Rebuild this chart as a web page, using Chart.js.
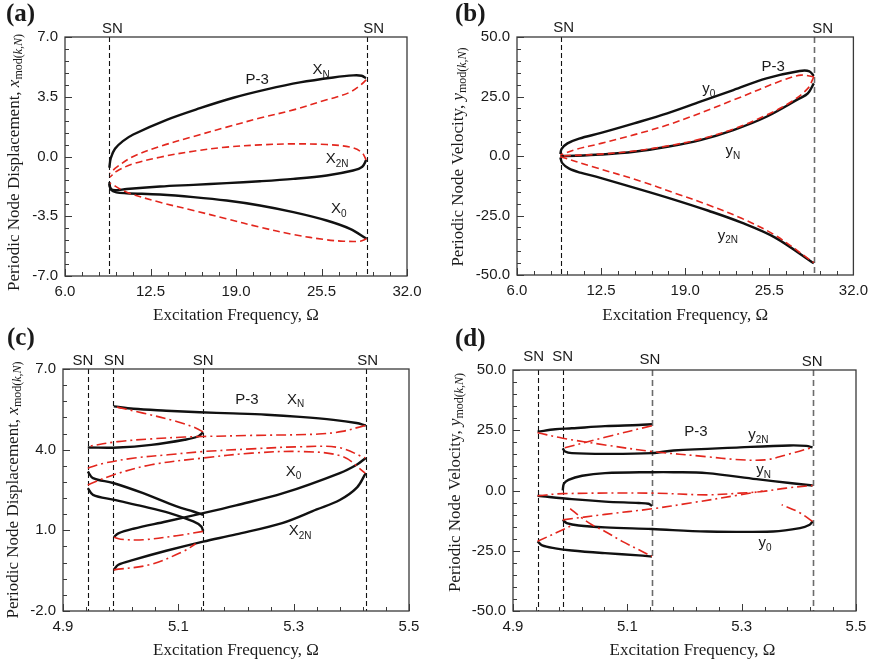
<!DOCTYPE html>
<html>
<head>
<meta charset="utf-8">
<script src="https://cdn.jsdelivr.net/npm/chart.js@4.4.1/dist/chart.umd.min.js"></script>
<style>
  html, body { margin: 0; padding: 0; background: #fff; }
  #wrap { position: relative; width: 875px; height: 663px; }
  #wrap canvas { position: absolute; left: 0; top: 0; pointer-events: none; }
</style>
</head>
<body>
<div id="wrap">
  <canvas id="pa" width="875" height="663"></canvas>
  <canvas id="pb" width="875" height="663"></canvas>
  <canvas id="pc" width="875" height="663"></canvas>
  <canvas id="pd" width="875" height="663"></canvas>
</div>
<script>
// ---- tick values ----
const wideX = [6.0, 12.5, 19.0, 25.5, 32.0];
const narrowX = [4.9, 5.1, 5.3, 5.5];
const aYTicks = [-7.0, -3.5, 0.0, 3.5, 7.0];
const bYTicks = [-50, -25, 0, 25, 50];
const cYTicks = [-2.0, 1.0, 4.0, 7.0];
const dYTicks = [-50, -25, 0, 25, 50];

// ---- saddle-node positions ----
const wideSN = [9.37, 28.93];
const narrowSN = [4.943, 4.987, 5.143, 5.425];

// ---- (a) displacement, [Omega, x] ----
const aXnStable = [[9.37,-0.66],[9.48,-0.10],[9.80,0.45],[10.40,0.90],[11.19,1.29],[13.73,2.15],[16.26,2.83],[18.80,3.44],[21.33,3.93],[23.86,4.34],[26.40,4.63],[27.92,4.75],[28.55,4.73],[28.88,4.59]];
const aXnUnstable = [[28.90,4.49],[28.43,4.16],[27.67,3.77],[26.65,3.48],[25.89,3.32],[23.36,2.73],[20.82,2.25],[18.29,1.72],[15.76,1.17],[13.22,0.59],[11.19,0.00],[9.93,-0.62],[9.42,-0.98]];
const aX2nStable = [[28.90,-0.20],[28.60,-0.60],[27.90,-0.82],[25.90,-1.11],[23.36,-1.31],[20.82,-1.45],[18.29,-1.56],[15.76,-1.66],[13.22,-1.76],[10.69,-1.90],[9.80,-1.98],[9.45,-1.85],[9.37,-1.50]];
const aX2nUnstable = [[28.90,-0.20],[28.55,0.25],[27.67,0.55],[25.89,0.70],[23.36,0.74],[20.82,0.68],[18.29,0.55],[15.76,0.31],[13.22,-0.04],[11.19,-0.43],[9.93,-0.86],[9.42,-1.21]];
const aX0Stable = [[9.37,-1.60],[9.50,-1.95],[9.90,-2.10],[10.69,-2.15],[13.22,-2.23],[15.76,-2.38],[18.29,-2.58],[20.82,-2.87],[23.36,-3.26],[25.89,-3.75],[27.67,-4.24],[28.93,-4.82]];
const aX0Unstable = [[28.93,-4.82],[28.43,-4.96],[27.16,-4.96],[25.89,-4.88],[23.36,-4.57],[20.82,-4.14],[18.29,-3.65],[15.76,-3.16],[13.22,-2.68],[10.69,-2.09],[9.42,-1.56]];

// ---- (b) velocity ----
const bY0Stable = [[9.35,0.8],[9.45,3.0],[9.90,5.3],[10.80,7.3],[12.49,9.7],[15.05,13.7],[17.61,17.9],[20.17,22.8],[22.72,27.7],[25.28,32.6],[27.84,35.7],[28.60,35.6],[28.94,33.6]];
const bY0Unstable = [[28.94,33.3],[27.96,34.0],[26.56,31.9],[22.72,23.5],[17.61,13.0],[12.49,5.3],[10.58,2.8],[9.35,0.4]];
const bYnStable = [[28.94,30.5],[28.48,26.3],[27.84,24.2],[25.28,16.5],[22.72,10.9],[20.17,6.7],[17.61,3.9],[15.05,1.8],[12.49,0.6],[10.58,0.1],[9.35,0.0]];
const bYnUnstable = [[28.94,33.3],[28.48,28.4],[27.20,22.8],[25.28,17.2],[22.72,11.3],[20.17,7.1],[17.61,4.2],[15.05,2.1],[12.49,0.8],[9.35,0.0]];
const bY2nStable = [[9.35,-0.6],[9.50,-3.0],[10.00,-5.2],[10.90,-7.0],[12.11,-8.7],[15.69,-14.3],[18.25,-18.5],[20.80,-23.0],[23.36,-28.0],[25.92,-34.2],[28.94,-45.1]];
const bY2nUnstable = [[9.35,-0.3],[11.86,-4.5],[15.69,-10.8],[18.25,-15.7],[20.80,-20.6],[23.36,-26.2],[25.92,-33.2],[28.94,-44.8]];

// ---- (c) displacement, narrow range ----
const cXnUpper = [[4.988,5.61],[5.022,5.52],[5.079,5.45],[5.137,5.39],[5.195,5.35],[5.253,5.30],[5.311,5.22],[5.369,5.11],[5.409,4.99],[5.425,4.90]];
const cXnLower = [[4.943,4.08],[4.995,4.08],[5.053,4.18],[5.111,4.37],[5.134,4.49],[5.143,4.65]];
const cAUpper = [[4.943,3.19],[4.952,2.94],[4.987,2.76],[5.039,2.38],[5.097,1.89],[5.126,1.70],[5.143,1.58]];
const cALower = [[4.943,2.57],[4.952,2.32],[4.987,2.14],[5.039,1.89],[5.085,1.64],[5.126,1.33],[5.140,1.14],[5.143,0.96]];
const cX0 = [[4.988,0.745],[4.996,0.89],[5.022,1.06],[5.079,1.33],[5.143,1.64],[5.200,1.93],[5.282,2.38],[5.380,3.13],[5.410,3.45],[5.425,3.69]];
const cX2n = [[4.988,-0.47],[4.996,-0.28],[5.022,-0.10],[5.079,0.24],[5.143,0.58],[5.200,0.85],[5.280,1.27],[5.340,1.78],[5.380,2.13],[5.410,2.60],[5.425,3.13]];
const cXnBack = [[5.143,4.66],[5.131,4.80],[5.097,5.05],[5.039,5.36],[4.988,5.61]];
const cXnReturn = [[5.424,4.90],[5.384,4.68],[5.343,4.58],[5.227,4.53],[5.143,4.49],[5.111,4.47],[5.053,4.40],[4.995,4.30],[4.943,4.12]];
const cRedUpper = [[4.943,3.31],[4.972,3.50],[5.024,3.69],[5.082,3.81],[5.143,3.93],[5.227,4.03],[5.314,4.11],[5.378,4.08],[5.424,3.69]];
const cRedLower = [[4.943,2.69],[4.987,3.06],[5.053,3.44],[5.143,3.69],[5.227,3.87],[5.314,3.93],[5.384,3.75],[5.424,3.13]];
const cRedLowA = [[5.143,0.96],[5.097,0.80],[5.039,0.65],[5.000,0.67],[4.988,0.745]];
const cRedLowB = [[4.988,-0.47],[5.050,-0.28],[5.108,0.21],[5.130,0.50]];

// ---- (d) velocity, narrow range ----
const dTopA = [[4.943,24.4],[4.974,25.4],[5.003,25.8],[5.061,26.7],[5.120,27.2],[5.143,27.5]];
const dMidA = [[4.943,-2.2],[5.003,-3.6],[5.061,-4.6],[5.120,-5.2],[5.137,-5.5],[5.143,-6.4]];
const dBotA = [[4.943,-21.1],[4.951,-22.8],[4.974,-24.0],[5.003,-24.9],[5.061,-26.0],[5.120,-26.9],[5.143,-27.4]];
const dY2n = [[4.987,17.5],[4.991,16.2],[5.003,15.5],[5.061,15.2],[5.143,15.5],[5.181,16.6],[5.297,17.9],[5.384,18.7],[5.413,18.5],[5.424,17.9]];
const dYn = [[4.987,0.0],[4.989,2.8],[4.997,4.4],[5.021,6.1],[5.061,7.2],[5.143,7.6],[5.181,7.6],[5.239,7.2],[5.326,4.7],[5.384,3.1],[5.424,2.1]];
const dY0 = [[4.987,-12.2],[4.994,-13.5],[5.015,-14.5],[5.061,-15.3],[5.143,-16.0],[5.239,-17.0],[5.355,-17.0],[5.402,-15.6],[5.419,-14.2],[5.424,-12.8]];
const dRedTop1 = [[5.143,26.9],[5.061,22.1],[4.987,17.5]];
const dRedTop2 = [[4.943,24.0],[4.987,21.7],[5.061,18.9],[5.143,16.2],[5.240,14.0],[5.289,12.9],[5.341,12.7],[5.378,14.8],[5.424,17.9]];
const dRedMid1 = [[4.943,-2.2],[4.987,-1.3],[5.143,-1.1],[5.239,-1.8],[5.297,-1.1],[5.337,-0.4],[5.378,1.0],[5.424,2.1]];
const dRedMid2 = [[4.987,-12.2],[5.061,-9.9],[5.143,-7.6],[5.210,-5.2],[5.297,-1.8],[5.337,-0.2]];
const dRedBotR = [[5.424,-12.8],[5.400,-9.0],[5.370,-5.9]];
const dRedBotA = [[5.000,-7.5],[5.021,-11.5],[5.038,-14.2],[5.061,-17.0],[5.091,-21.1],[5.126,-25.3],[5.143,-27.4]];
const dRedBotB = [[4.943,-21.1],[4.987,-16.3],[5.000,-14.8]];

const RED = '#e3261d';
const SANS = '"Liberation Sans", Arial, sans-serif';
const SERIF = '"Liberation Serif", "Times New Roman", serif';
const DASH = [7, 4];
const DASHDOT = [10, 4, 2, 4];

function pts(arr) { return arr.map(p => ({ x: p[0], y: p[1] })); }
function stable(arr) {
    return { data: pts(arr), showLine: true, borderColor: '#111', borderWidth: 2.4, pointRadius: 0, tension: 0.35 };
}
function unstable(arr, dash) {
    return { data: pts(arr), showLine: true, borderColor: RED, borderWidth: 1.6, borderDash: dash, pointRadius: 0, tension: 0.35 };
}

// subscript-style label parts
function sub(main, s, size) {
    return [{ t: main, f: size + 'px ' + SANS, dy: 0 }, { t: s, f: Math.round(size * 0.68) + 'px ' + SANS, dy: 5 }];
}
function yTitle(word, v) {
    return [
        { t: word + ', ', f: '17px ' + SERIF, dy: 0 },
        { t: v, f: 'italic 17px ' + SERIF, dy: 0 },
        { t: 'mod(', f: '12px ' + SERIF, dy: 4 },
        { t: 'k', f: 'italic 12px ' + SERIF, dy: 4 },
        { t: ',', f: '12px ' + SERIF, dy: 4 },
        { t: 'N', f: 'italic 12px ' + SERIF, dy: 4 },
        { t: ')', f: '12px ' + SERIF, dy: 4 }
    ];
}
const xTitle = [{ t: 'Excitation Frequency, Ω', f: '17px ' + SERIF, dy: 0 }];

// layout / decoration per panel
const panels = {
    pa: {
        area: { l: 65, t: 37, r: 407, b: 276 }, xt: wideX, yt: aYTicks,
        label: '(a)', labelAt: [6, 21],
        sn: [{ x: wideSN[0], dx: 3, dy: -4 }, { x: wideSN[1], dx: 7, dy: -4 }],
        notes: [{ x: 20.6, y: 4.48, p: sub('P-3', '', 15) }, { x: 25.2, y: 5.07, p: sub('X', 'N', 15) },
                { x: 26.2, y: -0.15, p: sub('X', '2N', 15) }, { x: 26.6, y: -3.08, p: sub('X', '0', 15) }],
        ytitle: { x: 15, dy: 6, p: yTitle('Periodic Node Displacement', 'x') },
        xtitle: { y: 320 }
    },
    pb: {
        area: { l: 517, t: 37, r: 856, b: 275 }, xt: wideX, yt: bYTicks,
        label: '(b)', labelAt: [455, 21],
        sn: [{ x: wideSN[0], dx: 3, dy: -5 }, { x: wideSN[1], dx: 9, dy: -4, gray: true }],
        notes: [{ x: 25.8, y: 37.5, p: sub('P-3', '', 15) }, { x: 20.6, y: 28.2, p: sub('y', '0', 15) },
                { x: 22.4, y: 2.2, p: sub('y', 'N', 15) }, { x: 21.8, y: -33.5, p: sub('y', '2N', 15) }],
        ytitle: { x: 459, dy: 1, p: yTitle('Periodic Node Velocity', 'y') },
        xtitle: { y: 320 }
    },
    pc: {
        area: { l: 63, t: 369, r: 409, b: 611 }, xt: narrowX, yt: cYTicks,
        label: '(c)', labelAt: [7, 345],
        sn: [{ x: narrowSN[0], dx: -5, dy: -4 }, { x: narrowSN[1], dx: 1, dy: -4 },
             { x: narrowSN[2], dx: 0, dy: -4 }, { x: narrowSN[3], dx: 2, dy: -4 }],
        notes: [{ x: 5.219, y: 5.86, p: sub('P-3', '', 15) }, { x: 5.297, y: 5.86, p: sub('X', 'N', 15) },
                { x: 5.295, y: 3.18, p: sub('X', '0', 15) }, { x: 5.300, y: 0.98, p: sub('X', '2N', 15) }],
        ytitle: { x: 14, dy: 0, p: yTitle('Periodic Node Displacement', 'x') },
        xtitle: { y: 655 }
    },
    pd: {
        area: { l: 513, t: 370, r: 856, b: 611 }, xt: narrowX, yt: dYTicks,
        label: '(d)', labelAt: [455, 346],
        sn: [{ x: narrowSN[0], dx: -4, dy: -9 }, { x: narrowSN[1], dx: 0, dy: -9 },
             { x: narrowSN[2], dx: -2, dy: -6, gray: true }, { x: narrowSN[3], dx: -1, dy: -4, gray: true }],
        notes: [{ x: 5.220, y: 24.3, p: sub('P-3', '', 15) }, { x: 5.318, y: 23.1, p: sub('y', '2N', 15) },
                { x: 5.332, y: 8.6, p: sub('y', 'N', 15) }, { x: 5.336, y: -21.7, p: sub('y', '0', 15) }],
        ytitle: { x: 456, dy: -8, p: yTitle('Periodic Node Velocity', 'y') },
        xtitle: { y: 655, dx: 8 }
    }
};

function runWidth(ctx, parts) {
    let w = 0;
    parts.forEach(q => { if (q.t) { ctx.font = q.f; w += ctx.measureText(q.t).width; } });
    return w;
}
function drawRun(ctx, parts, x, y) {
    let cx = x;
    parts.forEach(q => {
        if (!q.t) return;
        ctx.font = q.f;
        ctx.fillText(q.t, cx, y + q.dy);
        cx += ctx.measureText(q.t).width;
    });
}

function inwardTicks(ctx, scale, a, dir) {
    const t = scale.ticks.map(k => k.value);
    for (let i = 0; i < t.length; i++) {
        const n = i < t.length - 1 ? 5 : 1;
        for (let j = 0; j < n; j++) {
            const v = i < t.length - 1 ? t[i] + (t[i + 1] - t[i]) * j / 5 : t[i];
            const len = j === 0 ? 7 : 4;
            const pix = Math.round(scale.getPixelForValue(v)) + 0.5;
            ctx.beginPath();
            if (dir === 'x') { ctx.moveTo(pix, a.bottom); ctx.lineTo(pix, a.bottom - len); }
            else { ctx.moveTo(a.left, pix); ctx.lineTo(a.left + len, pix); }
            ctx.stroke();
        }
    }
}

const decor = {
    id: 'decor',
    beforeDatasetsDraw(chart) {
        const p = panels[chart.canvas.id];
        const { ctx, chartArea: a, scales: { x } } = chart;
        ctx.save();
        p.sn.forEach(s => {
            const px = Math.round(x.getPixelForValue(s.x)) + 0.5;
            ctx.strokeStyle = s.gray ? '#6b6b6b' : '#111';
            ctx.lineWidth = s.gray ? 1.6 : 1.1;
            ctx.setLineDash(s.gray ? [6, 4] : [5, 3]);
            ctx.beginPath(); ctx.moveTo(px, a.top); ctx.lineTo(px, a.bottom); ctx.stroke();
        });
        ctx.restore();
    },
    afterDraw(chart) {
        const p = panels[chart.canvas.id];
        const { ctx, chartArea: a, scales: { x, y } } = chart;
        ctx.save();
        ctx.setLineDash([]);
        ctx.strokeStyle = '#3a3a3a';
        ctx.lineWidth = 1.3;
        ctx.strokeRect(a.left, a.top, a.right - a.left, a.bottom - a.top);
        ctx.lineWidth = 1;
        inwardTicks(ctx, x, a, 'x');
        inwardTicks(ctx, y, a, 'y');

        ctx.fillStyle = '#1a1a1a';
        ctx.textBaseline = 'alphabetic';
        // SN labels
        ctx.font = '15px ' + SANS;
        ctx.textAlign = 'center';
        p.sn.forEach(s => ctx.fillText('SN', x.getPixelForValue(s.x) + s.dx, a.top + s.dy));
        // curve notes
        ctx.textAlign = 'left';
        ctx.textBaseline = 'middle';
        p.notes.forEach(n => {
            ctx.font = n.p[0].f;
            const w0 = ctx.measureText(n.p[0].t).width;
            drawRun(ctx, n.p, x.getPixelForValue(n.x) - w0 / 2, y.getPixelForValue(n.y));
        });
        // axis titles
        ctx.textBaseline = 'alphabetic';
        const xw = runWidth(ctx, xTitle);
        drawRun(ctx, xTitle, (a.left + a.right) / 2 - xw / 2 + (p.xtitle.dx || 0), p.xtitle.y);
        const yw = runWidth(ctx, p.ytitle.p);
        ctx.save();
        ctx.translate(p.ytitle.x, (a.top + a.bottom) / 2 + p.ytitle.dy);
        ctx.rotate(-Math.PI / 2);
        ctx.textBaseline = 'middle';
        drawRun(ctx, p.ytitle.p, -yw / 2, 0);
        ctx.restore();
        // panel letter
        ctx.font = 'bold 25px ' + SERIF;
        ctx.fillText(p.label, p.labelAt[0], p.labelAt[1]);
        ctx.restore();
    }
};
Chart.register(decor);

function axis(ticks, fitKey, fitVal) {
    return {
        type: 'linear',
        min: ticks[0], max: ticks[ticks.length - 1],
        grid: { display: false, drawTicks: false },
        border: { display: false },
        ticks: {
            stepSize: ticks[1] - ticks[0], padding: 7, autoSkip: false, maxRotation: 0,
            color: '#1a1a1a', font: { family: SANS, size: 15 },
            callback: v => Number(v).toFixed(1)
        },
        afterFit: s => { s[fitKey] = fitVal; }
    };
}

function makeChart(id, datasets) {
    const p = panels[id];
    return new Chart(document.getElementById(id), {
        type: 'scatter',
        data: { datasets: datasets },
        options: {
            responsive: false,
            animation: false,
            events: [],
            layout: { padding: { left: p.area.l - 50, top: p.area.t, right: 875 - p.area.r, bottom: 663 - p.area.b - 30 } },
            plugins: { legend: { display: false }, tooltip: { enabled: false } },
            scales: { x: axis(p.xt, 'height', 30), y: axis(p.yt, 'width', 50) }
        }
    });
}

// red branches first so they sit on top of the black ones
makeChart('pa', [
    unstable(aXnUnstable, DASH), unstable(aX2nUnstable, DASH), unstable(aX0Unstable, DASH),
    stable(aXnStable), stable(aX2nStable), stable(aX0Stable)
]);
makeChart('pb', [
    unstable(bY0Unstable, DASH), unstable(bYnUnstable, DASH), unstable(bY2nUnstable, DASH),
    stable(bY0Stable), stable(bYnStable), stable(bY2nStable)
]);
makeChart('pc', [
    unstable(cXnBack, DASHDOT), unstable(cXnReturn, DASHDOT), unstable(cRedUpper, DASHDOT),
    unstable(cRedLower, DASHDOT), unstable(cRedLowA, DASHDOT), unstable(cRedLowB, DASHDOT),
    stable(cXnUpper), stable(cXnLower), stable(cAUpper), stable(cALower), stable(cX0), stable(cX2n)
]);
makeChart('pd', [
    unstable(dRedTop1, DASHDOT), unstable(dRedTop2, DASHDOT), unstable(dRedMid1, DASHDOT),
    unstable(dRedMid2, DASHDOT), unstable(dRedBotR, DASHDOT), unstable(dRedBotA, DASHDOT), unstable(dRedBotB, DASHDOT),
    stable(dTopA), stable(dMidA), stable(dBotA), stable(dY2n), stable(dYn), stable(dY0)
]);
</script>
</body>
</html>
